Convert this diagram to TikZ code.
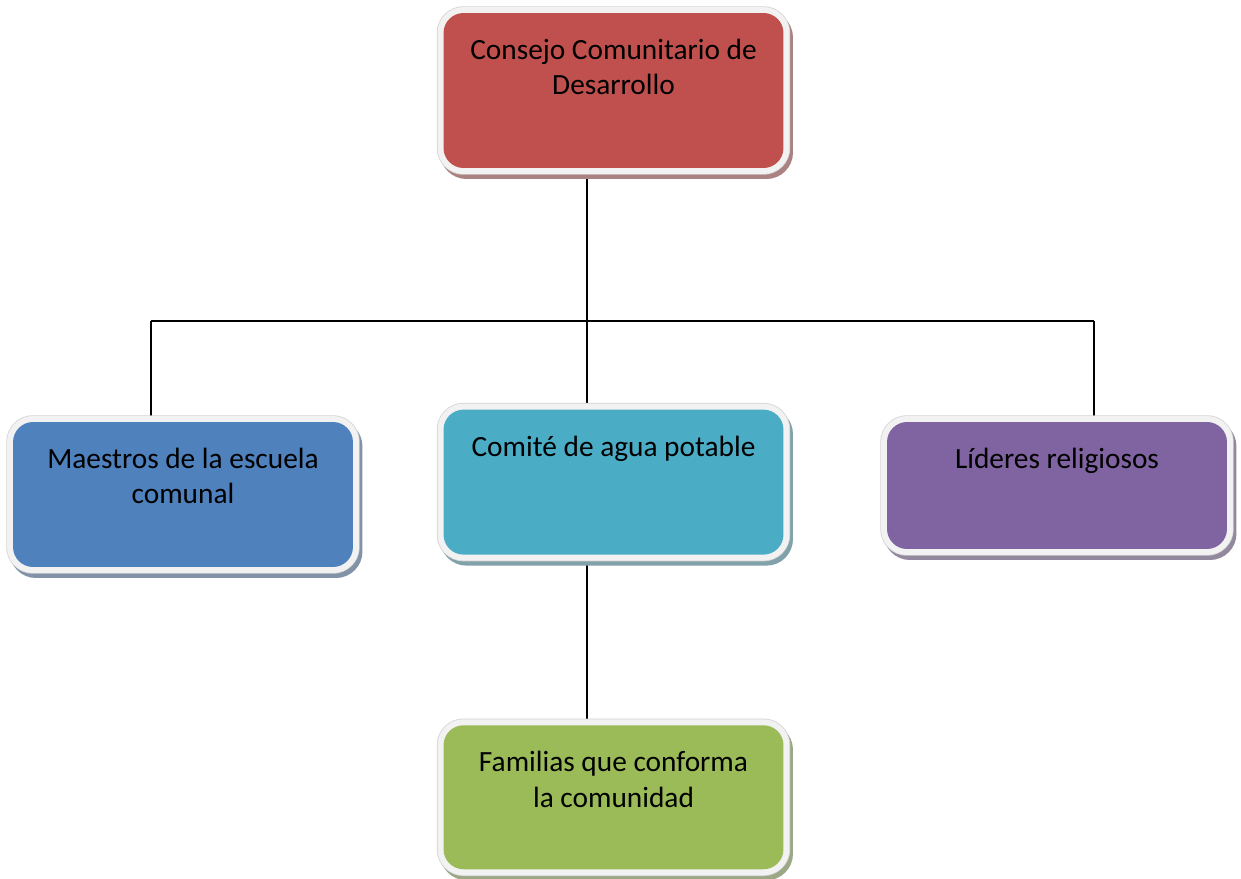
\documentclass[tikz,border=0pt]{standalone}
\usepackage{fontspec}
\setmainfont{Carlito}
\usetikzlibrary{positioning,backgrounds}

\definecolor{consejored}{HTML}{C0504D}
\definecolor{maestroblue}{HTML}{4F81BD}
\definecolor{comiteteal}{HTML}{4BACC6}
\definecolor{liderpurple}{HTML}{8064A2}
\definecolor{familiagreen}{HTML}{9BBB59}
\definecolor{framegray}{HTML}{F2F2F2}

\tikzset{
	unit/.style={rounded corners=0.4cm, minimum width=6.8cm, minimum height=2.9cm, fill=#1,
		preaction={fill=#1!40!gray!85, draw=#1!40!gray!85, line width=0.26cm, transform canvas={xshift=0.06cm, yshift=-0.09cm}},
		preaction={draw=gray!35, line width=0.27cm},
		preaction={draw=framegray, line width=0.24cm}},
	caption/.style={anchor=north, align=center, inner sep=0pt, font=\fontsize{16.7}{20.2}\selectfont},
	link/.style={draw=black, line width=0.04cm}
}

\begin{document}
\begin{tikzpicture}[x=0.02cm, y=-0.02cm]
	\useasboundingbox (0,0) rectangle (1241,879);

	\node[unit=consejored, minimum height=3.1cm] (consejo) at (613.5,90.5) {};
	\node[unit=comiteteal, below=4.82cm of consejo] (comite) {};
	\node[unit=familiagreen, minimum height=2.88cm, below=3.4cm of comite] (familias) {};
	\node[unit=maestroblue] (maestros) at (183,494.5) {};
	\node[unit=liderpurple, minimum height=2.54cm] (lideres) at (1057,485.5) {};

	\node[caption] (consejo-txt) at ([yshift=-0.52cm]consejo.north) {Consejo Comunitario de\\Desarrollo};
	\node[caption] (comite-txt) at ([yshift=-0.52cm]comite.north) {Comité de agua potable};
	\node[caption] (familias-txt) at ([yshift=-0.52cm]familias.north) {Familias que conforma\\la comunidad};
	\node[caption] (maestros-txt) at ([yshift=-0.52cm]maestros.north) {Maestros de la escuela\\comunal};
	\node[caption] (lideres-txt) at ([yshift=-0.52cm]lideres.north) {Líderes religiosos};

	\coordinate (hub) at (587,321);
	\coordinate (lbend) at (151,321);
	\coordinate (rbend) at (1094,321);

	\begin{scope}[on background layer]
		\draw[link] (consejo.south -| hub) -- (hub);
		\draw[link] (lbend) -- (rbend);
		\draw[link] (hub) -- (hub |- comite.north);
		\draw[link] (lbend) -- (lbend |- maestros.north);
		\draw[link] (rbend) -- (rbend |- lideres.north);
		\draw[link] (comite.south -| hub) -- (hub |- familias.north);
	\end{scope}

\end{tikzpicture}
\end{document}
